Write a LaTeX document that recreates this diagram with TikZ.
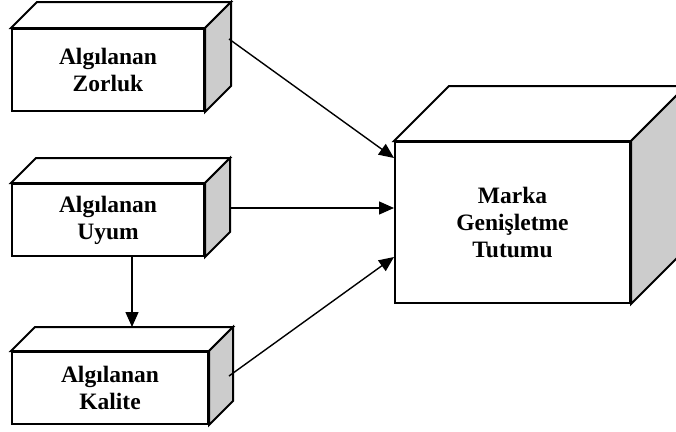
\documentclass[tikz,border=0pt]{standalone}
\usepackage{fontspec}
\setmainfont{Liberation Serif}
\usetikzlibrary{arrows.meta,calc}
\tikzset{>={Triangle[length=15pt,width=13pt]}}
\tikzset{front/.style={draw, line width=2pt, fill=white, inner sep=0pt, align=center,
  font=\fontsize{23.5}{27}\selectfont\bfseries}}

\begin{document}
\begin{tikzpicture}[x=1pt,y=-1pt]
\useasboundingbox (0,0) rectangle (676,431);
\node[front, minimum width=192pt, minimum height=82pt] (zor) at (108,70) {Algılanan\\Zorluk};
\node[front, minimum width=192pt, minimum height=72pt] (uyum) at (108,220) {Algılanan\\Uyum};
\node[front, minimum width=196pt, minimum height=72pt] (kal) at (110,388) {Algılanan\\Kalite};
\node[front, minimum width=235pt, minimum height=161pt] (mar) at (512.5,222.5) {Marka\\Genişletme\\Tutumu};
% top and side faces
\foreach \n/\d in {zor/26,uyum/25,kal/24,mar/55}{
  \draw[line width=2pt, fill=white] (\n.north west) -- ++(\d,-\d) -- ($(\n.north east)+(\d,-\d)$) -- (\n.north east) -- cycle;
  \draw[line width=2pt, fill=gray!40] (\n.north east) -- ++(\d,-\d) -- ($(\n.south east)+(\d,-\d)$) -- (\n.south east) -- cycle;
}
% arrows
\draw[->, line width=1.4pt] ([xshift=24pt,yshift=31pt]zor.east) -- ([yshift=64.5pt]mar.west);
\draw[->, line width=1.4pt] ([xshift=24pt,yshift=12pt]uyum.east) -- ([yshift=14.5pt]mar.west);
\draw[->, line width=1.4pt] ([xshift=20pt,yshift=12pt]kal.east) -- ([yshift=-34.5pt]mar.west);
\coordinate (kaltop) at ([yshift=24pt]kal.north);
\draw[->, line width=1.4pt] ([xshift=24pt]uyum.south) -- ([xshift=24pt]uyum.south |- kaltop);
\end{tikzpicture}
\end{document}
